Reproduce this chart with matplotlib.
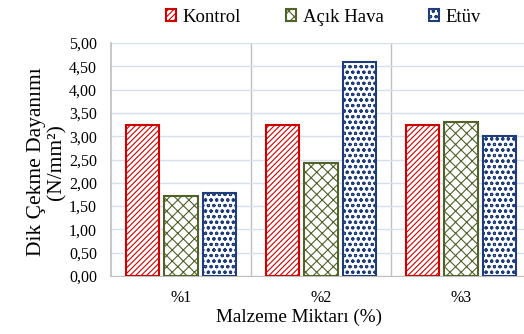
import matplotlib.pyplot as plt
import numpy as np

plt.rcParams['font.family'] = ['Liberation Serif', 'DejaVu Serif']
plt.rcParams['hatch.linewidth'] = 0.8

kategoriler = ['%1', '%2', '%3']
kontrol = [3.23, 3.23, 3.23]
acik_hava = [1.72, 2.42, 3.31]
etuv = [1.79, 4.60, 3.01]
yticks = np.arange(0, 5.01, 0.5)

fig = plt.figure(figsize=(5.24, 3.34), dpi=100)
ax = fig.add_axes([111 / 524, 1 - 276 / 334, 420 / 524, 233 / 334])

x = np.arange(len(kategoriler))
w = 0.236
d = 0.275

seriler = [
    ('Kontrol', kontrol, '#D00000', '//////'),
    ('Açık Hava', acik_hava, '#4F6228', 'xxx'),
    ('Etüv', etuv, '#1F3D7A', 'ooo'),
]
for i, (ad, vals, renk, hatch) in enumerate(seriler):
    ax.bar(x + (i - 1) * d, vals, w, facecolor='white', edgecolor=renk,
           hatch=hatch, linewidth=1.5, label=ad, zorder=3)

ax.set_xlim(-0.5, 2.5)
ax.set_ylim(0, 5)
ax.set_yticks(yticks)
ax.set_yticklabels([f'{v:.2f}'.replace('.', ',') for v in yticks], fontsize=11.5)
ax.set_xticks(x)
ax.set_xticklabels(kategoriler, fontsize=11.5)
ax.tick_params(axis='y', length=0, pad=10)
ax.tick_params(axis='x', length=0, pad=10)
ax.yaxis.grid(True, color='#D6DFEE', linewidth=1, zorder=0)
for xv in [0.5, 1.5]:
    ax.axvline(xv, color='#BFBFBF', linewidth=1, zorder=1)
for s in ['top', 'right']:
    ax.spines[s].set_visible(False)
ax.spines['left'].set_color('#BFBFBF')
ax.spines['bottom'].set_color('#BFBFBF')
ax.spines['left'].set_linewidth(1.2)

ax.set_xlabel('Malzeme Miktarı (%)', fontsize=13.8)
ax.xaxis.set_label_coords(0.448, -0.142)
ax.set_ylabel('Dik Çekme Dayanımı\n(N/mm²)', fontsize=15.5, linespacing=1.05)
ax.yaxis.set_label_coords(-0.107, 0.49)

fig.legend(loc='upper center', bbox_to_anchor=(0.617, 1.025), ncol=3,
           frameon=False, prop={'family': 'Liberation Serif', 'size': 13.5},
           handlelength=0.55, handleheight=0.55,
           columnspacing=2.4, handletextpad=0.35)

fig.savefig('out.png', dpi=100)
